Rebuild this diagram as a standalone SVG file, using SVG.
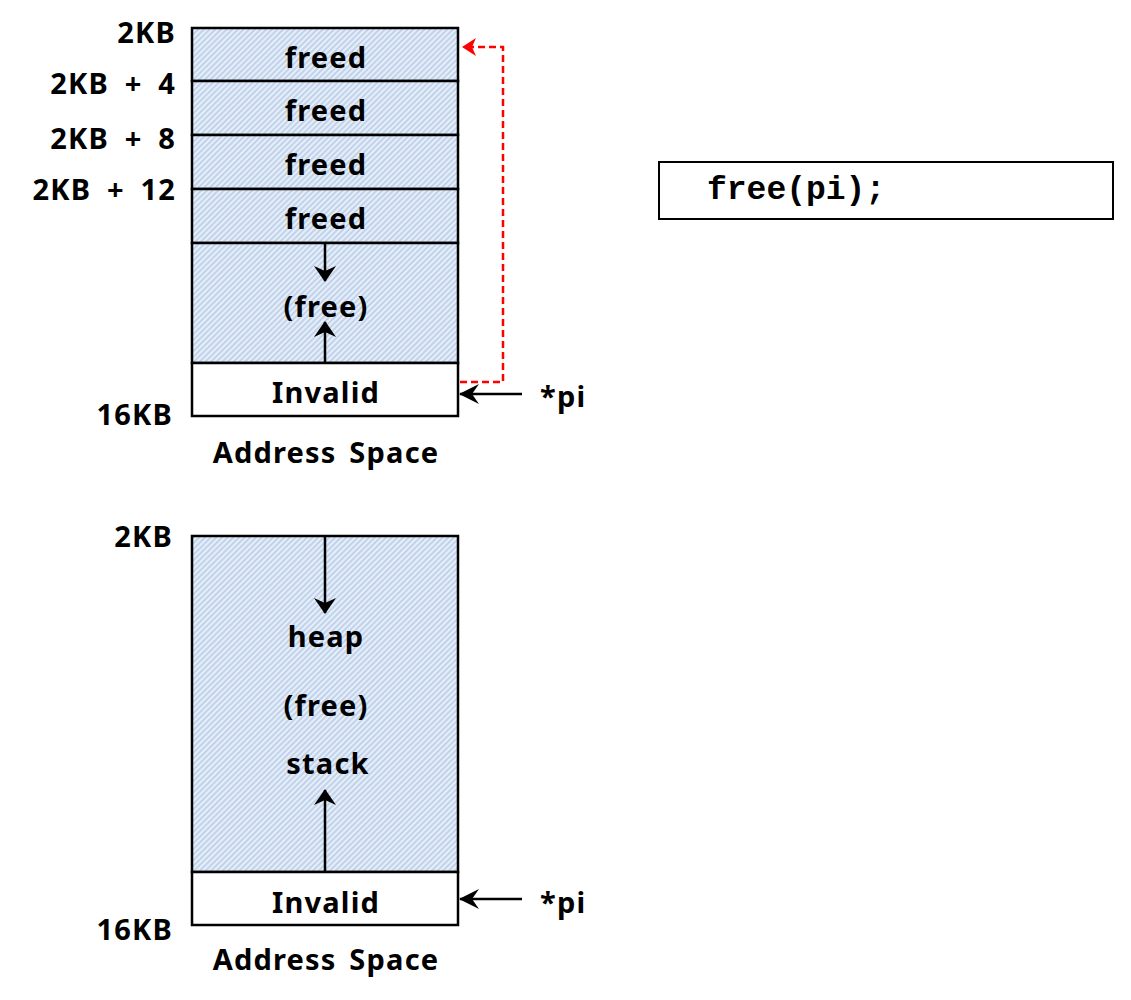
<svg xmlns="http://www.w3.org/2000/svg" width="1131" height="1000" viewBox="0 0 1131 1000">
<defs>
<pattern id="hatch" width="4" height="4" patternUnits="userSpaceOnUse" patternTransform="rotate(45)">
<rect width="4" height="4" fill="#e8eef8"/>
<rect width="2" height="4" fill="#c0d3ec"/>
</pattern>
<marker id="ah" viewBox="0 0 16 22" refX="15" refY="11" markerWidth="16" markerHeight="22" markerUnits="userSpaceOnUse" orient="auto">
<path d="M0,0 L16,11 L0,22 L5,11 Z" fill="#000"/>
</marker>
<marker id="ahr" viewBox="0 0 14 18" refX="13" refY="9" markerWidth="14" markerHeight="18" markerUnits="userSpaceOnUse" orient="auto">
<path d="M0,0 L14,9 L0,18 L4,9 Z" fill="#ff0000"/>
</marker>
<marker id="ahb" viewBox="0 0 20 20" refX="19" refY="10" markerWidth="20" markerHeight="20" markerUnits="userSpaceOnUse" orient="auto">
<path d="M0,0 L20,10 L0,20 L7,10 Z" fill="#000"/>
</marker>
</defs>
<style>
.t{font-family:"Noto Sans","Noto Sans CJK KR",sans-serif;font-weight:bold;font-size:29px;letter-spacing:1.2px;word-spacing:4px;fill:#000}
.m{text-anchor:middle}
.e{text-anchor:end}
.lbl{word-spacing:7px}
.box{stroke:#000;stroke-width:2.5}
.ar{stroke:#000;stroke-width:2.5;fill:none}
.code{font-family:"Liberation Mono","Courier New",monospace;font-weight:bold;font-size:33px;fill:#000}
</style>

<g id="top-space">
<g id="row-freed1"><rect class="box" x="192" y="28" width="266" height="53" fill="url(#hatch)"/><text class="t m" x="326" y="68">freed</text></g>
<g id="row-freed2"><rect class="box" x="192" y="81" width="266" height="54" fill="url(#hatch)"/><text class="t m" x="326" y="121">freed</text></g>
<g id="row-freed3"><rect class="box" x="192" y="135" width="266" height="54" fill="url(#hatch)"/><text class="t m" x="326" y="175">freed</text></g>
<g id="row-freed4"><rect class="box" x="192" y="189" width="266" height="54" fill="url(#hatch)"/><text class="t m" x="326" y="229">freed</text></g>
<g id="row-free"><rect class="box" x="192" y="243" width="266" height="120" fill="url(#hatch)"/><text class="t m" x="326" y="317">(free)</text></g>
<g id="row-invalid1"><rect class="box" x="192" y="363" width="266" height="53" fill="#fff"/><text class="t m" x="326" y="403">Invalid</text></g>
</g>
<g id="top-labels">
<text class="t e" x="176" y="43">2KB</text>
<text class="t e lbl" x="176" y="94">2KB + 4</text>
<text class="t e lbl" x="176" y="149">2KB + 8</text>
<text class="t e lbl" x="176" y="200">2KB + 12</text>
<text class="t e" x="173" y="425">16KB</text>
<text class="t m" x="326" y="463">Address Space</text>
<text class="t" x="540" y="407">*pi</text>
</g>

<g id="code-box">
<rect x="659" y="162" width="454" height="57" fill="#fff" stroke="#000" stroke-width="2"/>
<text class="code" x="707" y="199">free(pi);</text>
</g>

<g id="bottom-space">
<g id="region-heap"><rect class="box" x="192" y="536" width="266" height="336" fill="url(#hatch)"/>
<text class="t m" x="326" y="647">heap</text>
<text class="t m" x="326" y="716">(free)</text>
<text class="t m" x="328" y="774">stack</text></g>
<g id="row-invalid2"><rect class="box" x="192" y="872" width="266" height="53" fill="#fff"/><text class="t m" x="326" y="913">Invalid</text></g>
</g>
<g id="bottom-labels">
<text class="t e" x="173" y="547">2KB</text>
<text class="t e" x="173" y="940">16KB</text>
<text class="t m" x="326" y="970">Address Space</text>
<text class="t" x="540" y="913">*pi</text>
</g>

<g id="connectors">
<line class="ar" x1="325" y1="243" x2="325" y2="281" marker-end="url(#ah)"/>
<line class="ar" x1="325" y1="363" x2="325" y2="322" marker-end="url(#ah)"/>
<line class="ar" x1="522" y1="394" x2="460" y2="394" marker-end="url(#ahb)"/>
<polyline points="460,382 503,382 503,47 463,47" fill="none" stroke="#ff0000" stroke-width="2.5" stroke-dasharray="7,4" marker-end="url(#ahr)"/>
<line class="ar" x1="325" y1="536" x2="325" y2="613" marker-end="url(#ah)"/>
<line class="ar" x1="325" y1="872" x2="325" y2="790" marker-end="url(#ah)"/>
<line class="ar" x1="522" y1="899" x2="460" y2="899" marker-end="url(#ahb)"/>
</g>
</svg>
